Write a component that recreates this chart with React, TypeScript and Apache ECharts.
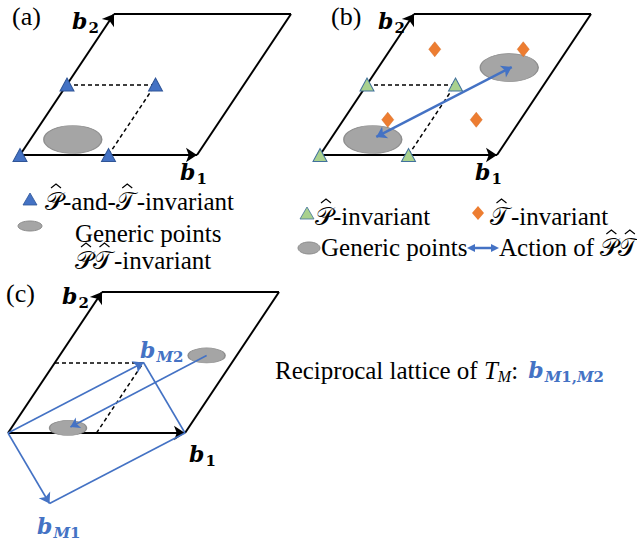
import React, { useEffect, useRef } from "react";
import * as echarts from "echarts";

const W = 637;
const H = 544;

// lattice geometry (pixel-space basis of the reciprocal lattice drawing)
const B1 = [177, 0];
const B2 = [94, -141];
const ORIGIN_A = [20, 155];
const ORIGIN_B = [320, 155];
const ORIGIN_C = [8, 433];

// data in fractional lattice coordinates (u along b1, v along b2)
const cellEdges = [
  [[0, 1], [1, 1]],
  [[1, 1], [1, 0]],
];
const basisVectors = [
  [[0, 0], [1, 0]],
  [[0, 0], [0, 1]],
];
const halfCellDashes = [
  [[0, 0.5], [0.5, 0.5]],
  [[0.5, 0], [0.5, 0.5]],
];
const ptInvariantA = [[0, 0], [0.5, 0], [0, 0.5], [0.5, 0.5]];
const pInvariantB = [[0, 0], [0.5, 0], [0, 0.5], [0.5, 0.5]];
const tInvariantB = [[0.25, 0.25], [0.75, 0.25], [0.25, 0.75], [0.75, 0.75]];
const genericA = [[0.24, 0.11]];
const genericB = [[0.24, 0.11], [0.74, 0.62]];
const genericC = [[0.32, 0.036], [0.83, 0.55]];
const ptActionB = [[0.25, 0.128], [0.752, 0.624]];
const ptActionC = [[0.83, 0.55], [0.33, 0.043]];
const moireVectors = [
  [[0, 0], [0.5, -0.5]],
  [[0, 0], [0.5, 0.5]],
];
const moireEdges = [
  [[0.5, -0.5], [1, 0]],
  [[0.5, 0.5], [1, 0]],
];

const BLUE = "#4472c4";
const GRAY = "#a5a5a5";
const GRAY_B = "#8e8e8e";
const ORANGE = "#ed7d31";
const GREEN = "#a9d18e";
const SERIF = "Liberation Serif";
const MATHB = "DejaVu Serif";
const FS = 25;

const toXY = (o: number[], p: number[]) => [
  o[0] + p[0] * B1[0] + p[1] * B2[0],
  o[1] + p[0] * B1[1] + p[1] * B2[1],
];
const segs = (o: number[], list: number[][][]) =>
  list.map((s) => ({ coords: [toXY(o, s[0]), toXY(o, s[1])] }));
const pts = (o: number[], list: number[][]) => list.map((p) => toXY(o, p));

function linesSeries(data: any[], color: string, width: number, symbol: any, symbolSize: number, type: any = "solid", z = 2) {
  return {
    type: "lines",
    coordinateSystem: "cartesian2d",
    data,
    symbol,
    symbolSize,
    silent: true,
    z,
    lineStyle: { color, width, type, opacity: 1, curveness: 0 },
  };
}
function scatterSeries(data: number[][], symbol: string, size: any, color: string, border: string, bw = 1, z = 3) {
  return {
    type: "scatter",
    data,
    symbol,
    symbolSize: size,
    silent: true,
    z,
    itemStyle: { color, borderColor: border, borderWidth: bw, opacity: 1 },
  };
}

type Part = { t: string; size?: number; family?: string; style?: string; weight?: string; dy?: number; fill?: string; hat?: boolean; gap?: number };

let measureCtx: CanvasRenderingContext2D | null = null;
function measure(p: Part) {
  if (!measureCtx) measureCtx = document.createElement("canvas").getContext("2d");
  const size = p.size ?? FS;
  measureCtx!.font = `${p.style ?? "normal"} ${p.weight ?? "normal"} ${size}px ${p.family ?? SERIF}`;
  return measureCtx!.measureText(p.t).width;
}
function runs(x: number, y: number, parts: Part[], fill = "#000") {
  const children: any[] = [];
  let cx = x;
  for (const p of parts) {
    const size = p.size ?? FS;
    const w = measure(p);
    children.push({
      type: "text",
      x: cx,
      y: y + (p.dy ?? 0),
      style: {
        text: p.t,
        fontFamily: p.family ?? SERIF,
        fontSize: size,
        fontStyle: p.style ?? "normal",
        fontWeight: p.weight ?? "normal",
        fill: p.fill ?? fill,
        align: "left",
        verticalAlign: "middle",
      },
    });
    if (p.hat) {
      const hx = cx + w / 2 + 2;
      const top = y - 17;
      children.push({
        type: "polyline",
        shape: { points: [[hx - 5, top + 4], [hx, top], [hx + 5, top + 4]] },
        style: { stroke: p.fill ?? fill, lineWidth: 1.2, fill: "none" },
      });
    }
    cx += w + (p.gap ?? 0);
  }
  return { type: "group", children };
}
const P: Part = { t: "\u{1D4AB}", hat: true };
const T: Part = { t: "\u{1D4AF}", hat: true, gap: 2 };
const s = (t: string): Part => ({ t });

function bParts(sub: Part[], color = "#000"): Part[] {
  return [
    { t: "b", family: MATHB, weight: "bold", style: "italic", size: 22, fill: color, gap: 1 },
    ...sub.map((p) => ({ family: MATHB, weight: "bold", size: 15, dy: 7, fill: color, ...p })),
  ];
}
const n = (t: string): Part => ({ t });
const i = (t: string): Part => ({ t, style: "italic" });

export default function App() {
  const ref = useRef<HTMLDivElement>(null);
  useEffect(() => {
    document.body.style.margin = "0";
    const chart = echarts.init(ref.current!, null, { renderer: "svg" });
    const series: any[] = [];
    for (const o of [ORIGIN_A, ORIGIN_B, ORIGIN_C]) {
      series.push(linesSeries(segs(o, cellEdges), "#000", 2, "none", 0));
      series.push(linesSeries(segs(o, basisVectors), "#000", 2, ["none", "arrow"], 11));
      series.push(linesSeries(segs(o, halfCellDashes), "#000", 1.5, "none", 0, [4, 3]));
    }
    series.push(scatterSeries(pts(ORIGIN_A, genericA), "circle", [58, 28], GRAY, GRAY_B, 1, 3));
    series.push(scatterSeries(pts(ORIGIN_B, genericB), "circle", [58, 28], GRAY, GRAY_B, 1, 3));
    series.push(scatterSeries(pts(ORIGIN_C, genericC), "circle", [37, 15], GRAY, GRAY_B, 1, 3));
    series.push(scatterSeries(pts(ORIGIN_A, ptInvariantA), "triangle", [14, 13], BLUE, "#2f5597", 1, 5));
    series.push(scatterSeries(pts(ORIGIN_B, pInvariantB), "triangle", [14, 13], GREEN, "#41719c", 1, 5));
    series.push(scatterSeries(pts(ORIGIN_B, tInvariantB), "diamond", [12, 15], ORANGE, "#d46a22", 0.5, 5));
    series.push(linesSeries([{ coords: pts(ORIGIN_B, ptActionB) }], BLUE, 2.5, ["arrow", "arrow"], 10, "solid", 4));
    series.push(linesSeries(segs(ORIGIN_C, moireVectors), BLUE, 1.6, ["none", "arrow"], 10, "solid", 4));
    series.push(linesSeries(segs(ORIGIN_C, moireEdges), BLUE, 1.6, "none", 0, "solid", 4));
    series.push(linesSeries([{ coords: pts(ORIGIN_C, ptActionC) }], BLUE, 1.6, ["none", "arrow"], 9, "solid", 4));

    const graphic: any[] = [
      runs(12, 16, [{ t: "(a)", size: 26 }]),
      runs(331, 16, [{ t: "(b)", size: 26 }]),
      runs(6, 293, [{ t: "(c)", size: 26 }]),
      runs(72, 21, bParts([n("2")])),
      runs(180, 172, bParts([n("1")])),
      runs(378, 21, bParts([n("2")])),
      runs(475, 172, bParts([n("1")])),
      runs(62, 296, bParts([n("2")])),
      runs(189, 454, bParts([n("1")])),
      runs(140, 350, bParts([i("M"), n("2")], BLUE)),
      runs(37, 526, bParts([i("M"), n("1")], BLUE)),
      // legend (a)
      { type: "polygon", shape: { points: [[23, 205], [37, 205], [30, 193]] }, style: { fill: BLUE, stroke: "#2f5597", lineWidth: 0.8 } },
      runs(45, 201, [P, s("-and-"), T, s("-invariant")]),
      { type: "ellipse", shape: { cx: 30, cy: 226, rx: 12, ry: 5 }, style: { fill: GRAY, stroke: GRAY_B, lineWidth: 1 } },
      runs(75, 233, [s("Generic points")]),
      runs(75, 260, [P, T, s("-invariant")]),
      // legend (b)
      { type: "polygon", shape: { points: [[300, 219], [314, 219], [307, 207]] }, style: { fill: GREEN, stroke: "#41719c", lineWidth: 0.8 } },
      runs(315, 216, [P, s("-invariant")]),
      { type: "polygon", shape: { points: [[478, 206], [484, 213], [478, 220], [472, 213]] }, style: { fill: ORANGE } },
      runs(490, 216, [T, s("-invariant")]),
      { type: "ellipse", shape: { cx: 309, cy: 248, rx: 11, ry: 6 }, style: { fill: GRAY, stroke: GRAY_B, lineWidth: 1 } },
      runs(321, 247, [s("Generic points")]),
      { type: "line", shape: { x1: 472, y1: 248, x2: 494, y2: 248 }, style: { stroke: BLUE, lineWidth: 2.5 } },
      { type: "polygon", shape: { points: [[467, 248], [475, 244], [475, 252]] }, style: { fill: BLUE } },
      { type: "polygon", shape: { points: [[499, 248], [491, 244], [491, 252]] }, style: { fill: BLUE } },
      runs(499, 247, [s("Action of "), P, T]),
      // (c) caption
      runs(275, 370, [
        s("Reciprocal lattice of "),
        { t: "T", style: "italic" },
        { t: "M", style: "italic", size: 16, dy: 6 },
        { t: ": ", gap: 4 },
        ...bParts([i("M"), n("1,"), i("M"), n("2")], BLUE),
      ]),
    ];

    chart.setOption({
      animation: false,
      grid: { left: 0, right: 0, top: 0, bottom: 0, containLabel: false },
      xAxis: { type: "value", min: 0, max: W, show: false },
      yAxis: { type: "value", min: 0, max: H, inverse: true, show: false },
      series,
      graphic,
    });
    return () => chart.dispose();
  }, []);
  return <div ref={ref} style={{ position: "fixed", left: 0, top: 0, width: W, height: H, background: "#fff" }} />;
}
